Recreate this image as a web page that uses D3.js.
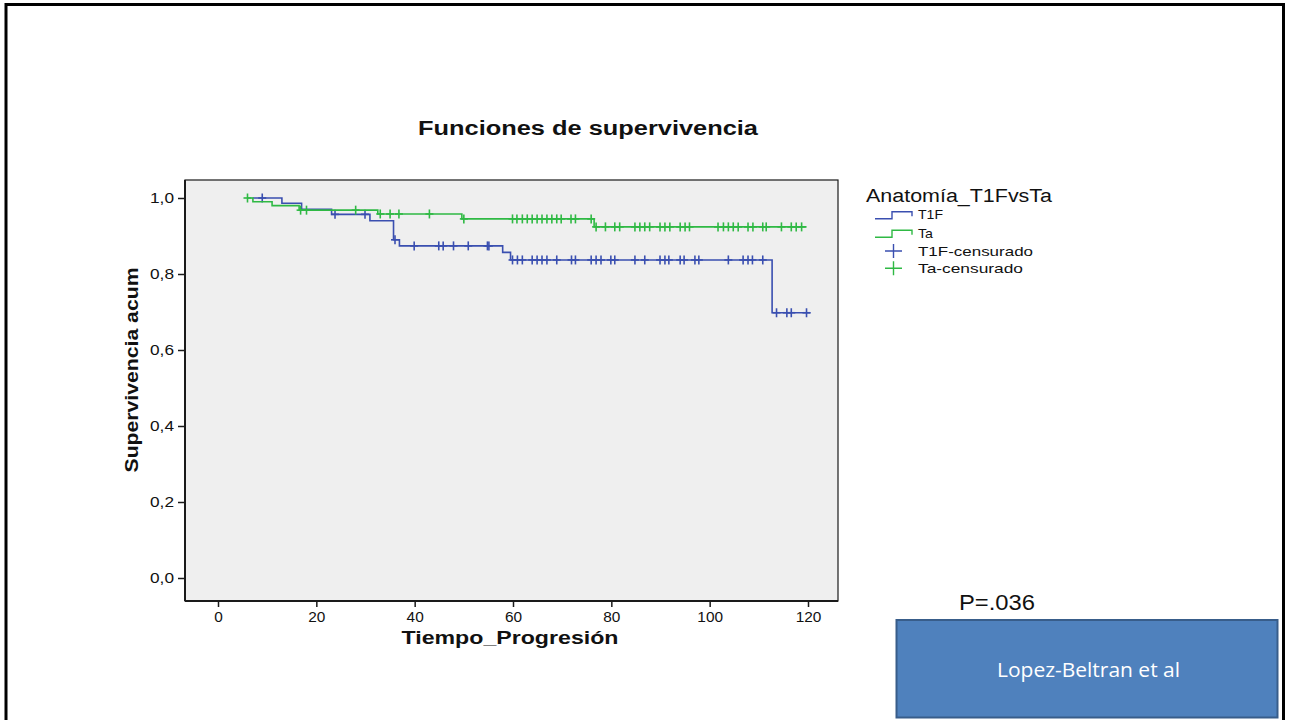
<!DOCTYPE html>
<html>
<head>
<meta charset="utf-8">
<script src="https://cdn.jsdelivr.net/npm/d3@7"></script>
<style>
  html, body { margin: 0; padding: 0; background: #ffffff; }
  svg { display: block; }
  text { font-family: "Liberation Sans", Arial, sans-serif; }
</style>
</head>
<body>
<svg id="chart" width="1289" height="720"></svg>
<script>
// ---------------- data ----------------
const chartTitle = "Funciones de supervivencia";
const xAxisTitle = "Tiempo_Progresión";
const yAxisTitle = "Supervivencia acum";
const legendTitle = "Anatomía_T1FvsTa";
const legendLabels = ["T1F", "Ta", "T1F-censurado", "Ta-censurado"];
const xTicks = [0, 20, 40, 60, 80, 100, 120];
const yTicks = [0, 0.2, 0.4, 0.6, 0.8, 1.0];
const pValueText = "P=.036";
const sourceText = "Lopez-Beltran et al";

// T1F group: Kaplan-Meier steps (time, survival after the step)
const t1fStepTimes = [7, 13, 17, 23.1, 30.9, 35.7, 36.9, 57.9, 59.5, 112.7];
const t1fStepSurv  = [1.0, 0.986, 0.970, 0.957, 0.940, 0.890, 0.874, 0.857, 0.837, 0.698];
const t1fEndTime = 120.5;
const t1fCensored = [9, 23.8, 29.9, 36, 39.9, 44.9, 45.8, 47.9, 50.9, 54.8, 55.1,
  59.9, 60.9, 61.9, 63.9, 64.9, 65.9, 66.9, 68.9, 71.9, 72.7, 75.9, 76.9, 77.9,
  79.9, 80.7, 84.8, 86.8, 89.9, 90.9, 91.7, 94.0, 94.8, 97.0, 97.8, 103.8, 106.8,
  107.8, 108.7, 110.8, 113.6, 115.7, 116.6, 119.7];

// Ta group
const taStepTimes = [6, 7.1, 11, 16.5, 32.5, 49.6, 76.5];
const taStepSurv  = [1.0, 0.990, 0.980, 0.968, 0.958, 0.945, 0.924];
const taEndTime = 119.7;
const taCensored = [6, 16.8, 18, 28, 33, 35, 36.8, 43, 50, 59.9, 60.8, 61.9, 62.9,
  63.9, 64.9, 65.9, 66.9, 67.9, 68.9, 69.8, 71.8, 72.7, 75.9, 76.9, 78.8, 80.7,
  81.7, 84.8, 85.8, 86.8, 87.8, 89.9, 90.9, 91.9, 94.0, 95.0, 95.9, 101.7, 102.8,
  103.8, 104.8, 105.8, 107.8, 108.8, 110.8, 111.5, 114.6, 116.6, 117.6, 118.7];

const colorT1F = "#3a4fb0";
const colorTa = "#2fb944";

// ---------------- layout ----------------
const svg = d3.select("#chart");
const frame = { left: 185, right: 838, top: 180, bottom: 601 };
const x = d3.scaleLinear().domain([0, 120]).range([218, 808]);
const y = d3.scaleLinear().domain([0, 1]).range([578, 198]);

function fit(sel, w) {
  sel.attr("textLength", w).attr("lengthAdjust", "spacingAndGlyphs");
}
function stretch(sel, k) {
  sel.each(function () {
    const w = this.getComputedTextLength();
    d3.select(this).attr("textLength", w * k).attr("lengthAdjust", "spacingAndGlyphs");
  });
}

// outer slide frame
svg.append("path")
  .attr("d", "M6,720 V4.5 H1283.5 V720")
  .attr("fill", "none").attr("stroke", "#000").attr("stroke-width", 3);

// plot background
svg.append("rect")
  .attr("x", frame.left).attr("y", frame.top)
  .attr("width", frame.right - frame.left).attr("height", frame.bottom - frame.top)
  .attr("fill", "#efefef").attr("stroke", "#1a1a1a").attr("stroke-width", 1.2);

// y axis
const yAxis = d3.axisLeft(y).tickValues(yTicks).tickSize(7).tickPadding(4)
  .tickFormat(d => d3.format(".1f")(d).replace(".", ","));
const gy = svg.append("g").attr("transform", `translate(${frame.left},0)`).call(yAxis);
gy.select(".domain").remove();
gy.selectAll(".tick line").attr("stroke", "#1a1a1a").attr("stroke-width", 1.5);
gy.selectAll(".tick text").attr("font-size", 14).attr("fill", "#111").call(fit, 24);
svg.append("line").attr("x1", frame.left).attr("x2", frame.left)
  .attr("y1", frame.top).attr("y2", frame.bottom).attr("stroke", "#1a1a1a").attr("stroke-width", 2);

// x axis
const xAxis = d3.axisBottom(x).tickValues(xTicks).tickSize(6).tickPadding(5).tickFormat(d3.format("d"));
const gx = svg.append("g").attr("transform", `translate(0,${frame.bottom})`).call(xAxis);
gx.select(".domain").remove();
gx.selectAll(".tick line").attr("stroke", "#1a1a1a").attr("stroke-width", 1.5);
gx.selectAll(".tick text").attr("font-size", 14).attr("fill", "#111").call(stretch, 1.1);
svg.append("line").attr("x1", frame.left).attr("x2", frame.right)
  .attr("y1", frame.bottom).attr("y2", frame.bottom).attr("stroke", "#1a1a1a").attr("stroke-width", 2);

// titles
svg.append("text").attr("x", 588).attr("y", 135).attr("text-anchor", "middle")
  .attr("font-size", 19.5).attr("font-weight", "bold").attr("fill", "#111")
  .text(chartTitle).call(fit, 340);
svg.append("text").attr("x", 510).attr("y", 644).attr("text-anchor", "middle")
  .attr("font-size", 18).attr("font-weight", "bold").attr("fill", "#111")
  .text(xAxisTitle).call(fit, 217);
svg.append("text").attr("transform", "translate(138,370) rotate(-90)").attr("text-anchor", "middle")
  .attr("font-size", 18).attr("font-weight", "bold").attr("fill", "#111")
  .text(yAxisTitle).call(fit, 205);

// survival step curves
function stepPoints(times, surv, endTime) {
  const pts = [];
  times.forEach((t, i) => {
    if (i > 0) pts.push([t, surv[i - 1]]);
    pts.push([t, surv[i]]);
  });
  pts.push([endTime, surv[surv.length - 1]]);
  return pts;
}
function survAt(times, surv, t) {
  let s = surv[0];
  times.forEach((tt, i) => { if (tt <= t) s = surv[i]; });
  return s;
}
const line = d3.line().x(d => x(d[0])).y(d => y(d[1]));

const series = [
  { times: t1fStepTimes, surv: t1fStepSurv, end: t1fEndTime, cens: t1fCensored, color: colorT1F },
  { times: taStepTimes, surv: taStepSurv, end: taEndTime, cens: taCensored, color: colorTa }
];

series.forEach(s => {
  svg.append("path")
    .attr("d", line(stepPoints(s.times, s.surv, s.end)))
    .attr("fill", "none").attr("stroke", s.color).attr("stroke-width", 1.6);
  const g = svg.append("g").attr("stroke", s.color).attr("stroke-width", 1.6);
  s.cens.forEach(t => {
    const cx = x(t), cy = y(survAt(s.times, s.surv, t));
    g.append("line").attr("x1", cx).attr("x2", cx).attr("y1", cy - 4.5).attr("y2", cy + 4.5);
    g.append("line").attr("x1", cx - 4).attr("x2", cx + 4).attr("y1", cy).attr("y2", cy);
  });
});

// legend
svg.append("text").attr("x", 866).attr("y", 202).attr("font-size", 18).attr("fill", "#111")
  .text(legendTitle).call(fit, 186);
const legColors = [colorT1F, colorTa, colorT1F, colorTa];
const legY = [214.3, 232.7, 251, 268.3];
const legW = [25, 15, 115, 105];
legendLabels.forEach((lab, i) => {
  const cy = legY[i];
  if (i < 2) {
    svg.append("path")
      .attr("d", `M875,${cy + 4.5} H892 V${cy - 2.5} H912 V${cy + 2}`)
      .attr("fill", "none").attr("stroke", legColors[i]).attr("stroke-width", 1.4);
  } else {
    svg.append("path")
      .attr("d", `M885,${cy} H902 M893.5,${cy - 7} V${cy + 7}`)
      .attr("fill", "none").attr("stroke", legColors[i]).attr("stroke-width", 1.4);
  }
  svg.append("text").attr("x", 918).attr("y", cy + 5).attr("font-size", 13.5).attr("fill", "#111")
    .text(lab).call(fit, legW[i]);
});

// p-value and source box
svg.append("text").attr("x", 959).attr("y", 610).attr("font-size", 22).attr("fill", "#111")
  .text(pValueText).call(fit, 76);
svg.append("rect").attr("x", 896.5).attr("y", 620).attr("width", 381).attr("height", 97.5)
  .attr("fill", "#4f81bd").attr("stroke", "#385d8a").attr("stroke-width", 2);
svg.append("text").attr("x", 1088.5).attr("y", 677).attr("text-anchor", "middle")
  .style("font-family", "'Open Sans', Lato, sans-serif")
  .attr("font-size", 20).attr("fill", "#ffffff")
  .text(sourceText).call(fit, 183);
</script>
</body>
</html>
